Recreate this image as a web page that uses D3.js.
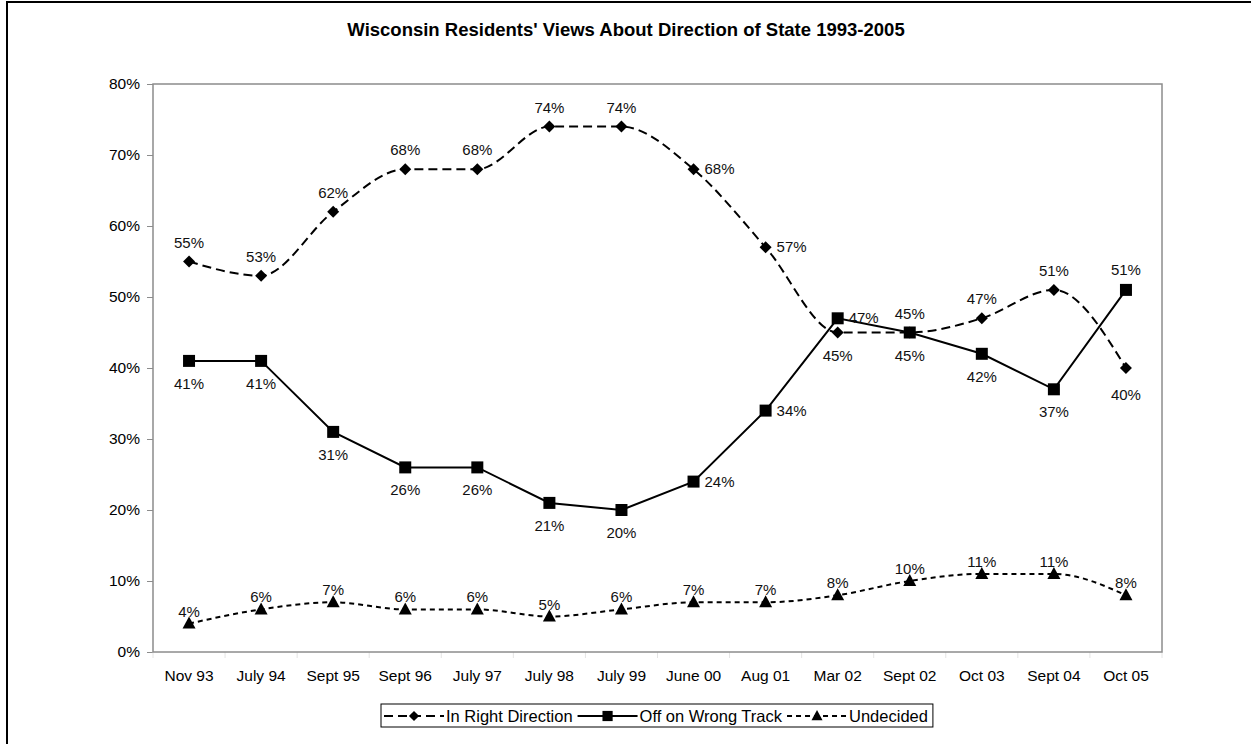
<!DOCTYPE html>
<html>
<head>
    <meta charset="utf-8">
    <title>Wisconsin Residents' Views About Direction of State 1993-2005</title>
    <style>
        body { margin: 0; background: #fff; font-family: "Liberation Sans", Arial, Helvetica, sans-serif; }
        .frame { fill: none; stroke: #000; stroke-width: 2px; }
        .plotbox { fill: none; stroke: #8c8c8c; stroke-width: 1.5px; }
        .tick text { font-size: 15.5px; fill: #000; }
        .lbl { font-size: 15px; fill: #111; }
        .title { font-size: 18.5px; font-weight: bold; }
        .leg text { font-size: 16.5px; }
    </style>
    <script src="https://d3js.org/d3.v7.min.js"></script>
</head>
<body>
<svg id="chart"></svg>

<script>
    //categories and series values (percent)
    var months = ["Nov 93","July 94","Sept 95","Sept 96","July 97","July 98","July 99","June 00","Aug 01","Mar 02","Sept 02","Oct 03","Sept 04","Oct 05"];
    var rightDirection = [55,53,62,68,68,74,74,68,57,45,45,47,51,40];
    var wrongTrack     = [41,41,31,26,26,21,20,24,34,47,45,42,37,51];
    var undecided      = [4,6,7,6,6,5,6,7,7,8,10,11,11,8];
    var yTicks = [0,10,20,30,40,50,60,70,80];

    //where each value label sits (t=above, b=below, r=right)
    var rightLblPos = ["t","t","t","t","t","t","t","r","r","b","t","t","t","b"];
    var wrongLblPos = ["b","b","b","b","b","b","b","r","r","r","b","b","b","t"];
    var undLblPos   = ["t","t","t","t","t","t","t","t","t","t","t","t","t","t"];

    var W = 1251, H = 744,
        pLeft = 153, pRight = 1162, pTop = 84, pBottom = 652;

    var svg = d3.select("#chart").attr("width", W).attr("height", H);

    //outer chart border (cut by the picture on right and bottom)
    svg.append("rect").attr("class","frame").attr("x",7).attr("y",2).attr("width",W+20).attr("height",H+20);

    svg.append("text").attr("class","title")
        .attr("x", 626).attr("y", 36).attr("text-anchor","middle")
        .text("Wisconsin Residents' Views About Direction of State 1993-2005");

    var x = d3.scaleBand().domain(months).range([pLeft, pRight]);
    var y = d3.scaleLinear().domain([0, 80]).range([pBottom, pTop]);
    var cx = function(i){ return x(months[i]) + x.bandwidth()/2; };

    //y axis
    var yAxis = svg.append("g").attr("transform","translate("+pLeft+",0)")
        .call(d3.axisLeft(y).tickValues(yTicks).tickSize(6).tickPadding(7).tickFormat(function(d){ return d+"%"; }));
    yAxis.select(".domain").remove();
    yAxis.selectAll("line").attr("stroke","#8c8c8c");

    //x axis
    var xAxis = svg.append("g").attr("transform","translate(0,"+pBottom+")")
        .call(d3.axisBottom(x).tickSize(0).tickPadding(18));
    xAxis.select(".domain").remove();
    svg.append("g").selectAll("line").data(d3.range(months.length+1)).enter()
        .append("line")
        .attr("x1", function(i){ return pLeft + i*x.step(); }).attr("x2", function(i){ return pLeft + i*x.step(); })
        .attr("y1", pBottom).attr("y2", pBottom+6).attr("stroke","#e4e4e4");

    svg.append("rect").attr("class","plotbox")
        .attr("x", pLeft).attr("y", pTop).attr("width", pRight-pLeft).attr("height", pBottom-pTop);

    var series = [
        {name:"In Right Direction", vals:rightDirection, pos:rightLblPos, curve:d3.curveMonotoneX, dash:"9,5", sym:"diamond", up:-19, down:23},
        {name:"Off on Wrong Track", vals:wrongTrack, pos:wrongLblPos, curve:d3.curveLinear, dash:null, sym:"square", up:-20, down:23},
        {name:"Undecided", vals:undecided, pos:undLblPos, curve:d3.curveMonotoneX, dash:"5,4", sym:"triangle", up:-12, down:20}
    ];

    function symbolPath(sym){
        if(sym==="diamond") return "M0,-6L6,0L0,6L-6,0Z";
        if(sym==="square") return "M-6,-6H6V6H-6Z";
        return "M0,-7L6.5,5H-6.5Z";
    }

    series.forEach(function(s){
        var line = d3.line().x(function(d,i){ return cx(i); }).y(function(d){ return y(d); }).curve(s.curve);
        svg.append("path").datum(s.vals).attr("d", line)
            .attr("fill","none").attr("stroke","#000").attr("stroke-width",2)
            .attr("stroke-dasharray", s.dash);
        svg.append("g").selectAll("path").data(s.vals).enter().append("path")
            .attr("d", symbolPath(s.sym))
            .attr("transform", function(d,i){ return "translate("+cx(i)+","+y(d)+")"; })
            .attr("fill","#000");
        svg.append("g").selectAll("text").data(s.vals).enter().append("text")
            .attr("class","lbl")
            .attr("x", function(d,i){ return s.pos[i]==="r" ? cx(i)+11 : cx(i); })
            .attr("y", function(d,i){
                var p = s.pos[i];
                var off = p==="t" ? s.up : (p==="b" ? s.down : 0);
                if(s.sym==="diamond" && i===13) off = 27;
                return y(d) + off + 5;
            })
            .attr("text-anchor", function(d,i){ return s.pos[i]==="r" ? "start" : "middle"; })
            .text(function(d){ return d+"%"; });
    });

    //legend
    var leg = svg.append("g").attr("class","leg");
    var legBox = leg.append("rect").attr("y",704).attr("height",23).attr("fill","#fff").attr("stroke","#000").attr("stroke-width",1);
    var lx = 384, ly = 716;
    series.forEach(function(s){
        leg.append("line").attr("x1", lx).attr("x2", lx+60).attr("y1", ly).attr("y2", ly)
            .attr("stroke","#000").attr("stroke-width",2).attr("stroke-dasharray", s.dash);
        leg.append("path").attr("d", symbolPath(s.sym)).attr("transform","translate("+(lx+30)+","+ly+") scale(0.85)");
        var t = leg.append("text").attr("x", lx+62).attr("y", ly+6).text(s.name);
        lx += 62 + t.node().getComputedTextLength() + 5;
    });
    legBox.attr("x", 381).attr("width", lx - 381);
</script>
</body>
</html>
